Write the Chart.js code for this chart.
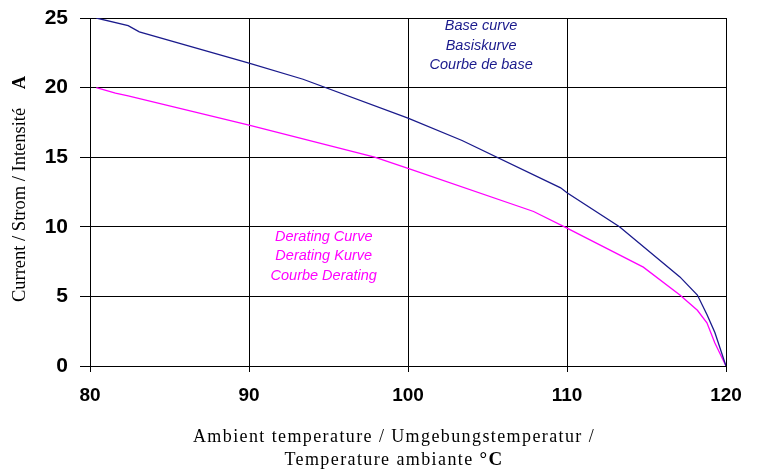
<!DOCTYPE html>
<html>
<head>
<meta charset="utf-8">
<script src="https://cdn.jsdelivr.net/npm/chart.js@4.4.0/dist/chart.umd.min.js"></script>
<style>
  html, body { margin: 0; padding: 0; background: #fff; }
  #wrap { width: 758px; height: 470px; }
</style>
</head>
<body>
<div id="wrap"><canvas id="derating"></canvas></div>
<script>
// values
const baseTemp = [80.4, 82.4, 83.1, 90, 93.4, 100, 103.4, 109.6, 110, 113.3, 117.1, 118.2, 118.8, 119.3, 120];
const baseCurrent = [25, 24.45, 24.0, 21.75, 20.6, 17.8, 16.2, 12.8, 12.45, 10.0, 6.4, 5.1, 3.7, 2.4, 0];
const deratingTemp = [80.4, 81.6, 82.4, 90, 97.9, 100, 107.9, 110, 114.8, 117.1, 118.2, 118.8, 119.3, 120];
const deratingCurrent = [20, 19.6, 19.4, 17.3, 15.0, 14.2, 11.1, 9.9, 7.1, 5.1, 4.0, 3.1, 1.65, 0];
const baseLabel = ['Base curve', 'Basiskurve', 'Courbe de base'];
const deratingLabel = ['Derating Curve', 'Derating Kurve', 'Courbe Derating'];
const xTitle = ['Ambient temperature / Umgebungstemperatur /', 'Temperature ambiante '];
const yTitle = 'Current / Strom / Intensité';

const toPoints = (xs, ys) => xs.map((x, i) => ({ x: x, y: ys[i] }));

const serif = '"Liberation Serif", "Times New Roman", serif';
const sans = '"Liberation Sans", Arial, sans-serif';

// axis titles and the curve captions
const textPlugin = {
    id: 'texts',
    afterDraw(chart) {
        const ctx = chart.ctx;
        const xs = chart.scales.x, ys = chart.scales.y;
        ctx.save();
        ctx.textAlign = 'center';
        ctx.textBaseline = 'middle';

        // captions
        ctx.font = 'italic 14.5px ' + sans;
        ctx.fillStyle = '#1a1a8c';
        baseLabel.forEach((t, i) => {
            ctx.fillText(t, xs.getPixelForValue(104.6), ys.getPixelForValue(24.4 - i * 1.4));
        });
        ctx.fillStyle = '#ff00ff';
        deratingLabel.forEach((t, i) => {
            ctx.fillText(t, xs.getPixelForValue(94.7), ys.getPixelForValue(9.3 - i * 1.4));
        });

        // x title, a bit spread out like the original
        ctx.fillStyle = '#000';
        ctx.letterSpacing = '1.4px';
        ctx.font = '18px ' + serif;
        ctx.fillText(xTitle[0], 394, 437);
        const w1 = ctx.measureText(xTitle[1]).width;
        ctx.font = 'bold 19px ' + serif;
        const w2 = ctx.measureText('°C').width;
        const start = 394 - (w1 + w2) / 2;
        ctx.textAlign = 'left';
        ctx.font = '18px ' + serif;
        ctx.fillText(xTitle[1], start, 460);
        ctx.font = 'bold 19px ' + serif;
        ctx.fillText('°C', start + w1, 460);
        ctx.letterSpacing = '0px';

        // y title
        ctx.translate(20, 189);
        ctx.rotate(-Math.PI / 2);
        ctx.font = '18.5px ' + serif;
        const wy = ctx.measureText(yTitle + '    ').width;
        ctx.font = 'bold 18.5px ' + serif;
        const wa = ctx.measureText('A').width;
        const sy = -(wy + wa) / 2;
        ctx.font = '18.5px ' + serif;
        ctx.fillText(yTitle, sy, 0);
        ctx.font = 'bold 18.5px ' + serif;
        ctx.fillText('A', sy + wy, 0);
        ctx.restore();
    }
};

const ctx = document.getElementById('derating').getContext('2d');
const deratingChart = new Chart(ctx, {
    type: 'scatter',
    data: {
        datasets: [{
            label: 'Base curve',
            data: toPoints(baseTemp, baseCurrent),
            showLine: true,
            borderColor: '#1a1a8c',
            borderWidth: 1.3,
            pointRadius: 0,
            tension: 0
        }, {
            label: 'Derating curve',
            data: toPoints(deratingTemp, deratingCurrent),
            showLine: true,
            borderColor: '#ff00ff',
            borderWidth: 1.3,
            pointRadius: 0,
            tension: 0
        }]
    },
    options: {
        responsive: true,
        maintainAspectRatio: false,
        animation: false,
        layout: { padding: { top: 18, right: 32, bottom: 0, left: 0 } },
        plugins: {
            legend: { display: false },
            tooltip: { enabled: false }
        },
        scales: {
            x: {
                type: 'linear',
                min: 80,
                max: 120,
                ticks: {
                    stepSize: 10,
                    padding: 12,
                    color: '#000',
                    font: { family: sans, size: 19, weight: 'bold' }
                },
                grid: { color: '#000', lineWidth: 1, tickLength: 6 },
                border: { color: '#000', width: 1 },
                afterFit(scale) {
                    scale.height = 104;
                    scale.paddingLeft = 0;
                    scale.paddingRight = 0;
                }
            },
            y: {
                min: 0,
                max: 25,
                ticks: {
                    stepSize: 5,
                    padding: 12,
                    color: '#000',
                    font: { family: sans, size: 21, weight: 'bold' }
                },
                grid: { color: '#000', lineWidth: 1, tickLength: 10 },
                border: { color: '#000', width: 1 },
                afterFit(scale) {
                    scale.width = 90;
                    scale.paddingTop = 0;
                    scale.paddingBottom = 0;
                }
            }
        }
    },
    plugins: [textPlugin]
});
</script>
</body>
</html>
